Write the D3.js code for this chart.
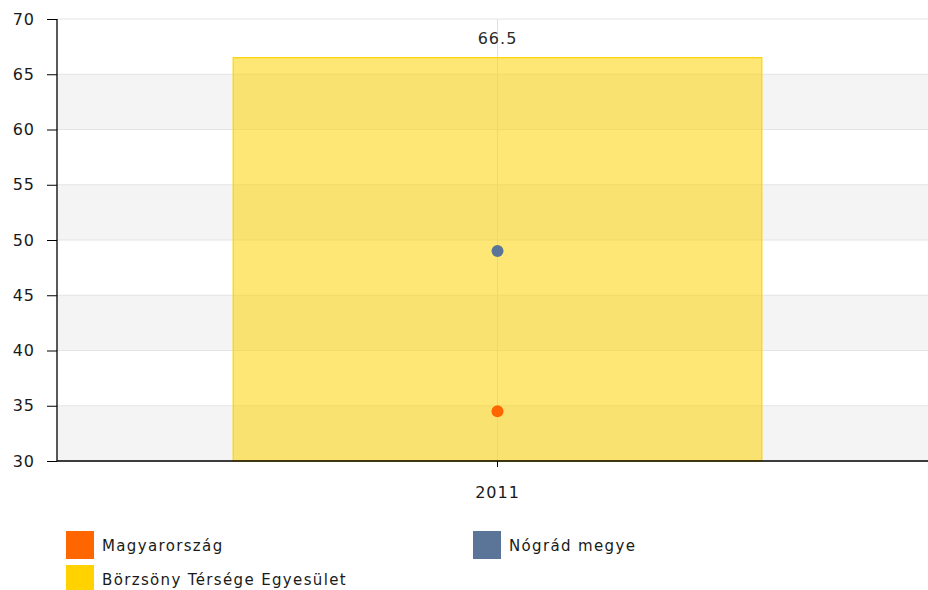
<!DOCTYPE html>
<html><head><meta charset="utf-8">
<script src="https://cdn.jsdelivr.net/npm/d3@7"></script>
<style>body{margin:0;background:#fff}svg{display:block}text{font-family:"DejaVu Sans",Verdana,sans-serif}</style>
</head><body>
<svg id="c" width="928" height="590"></svg>
<script>
const categories = ["2011"];
const seriesNames = ["Magyarország", "Nógrád megye", "Börzsöny Térsége Egyesület"];
const seriesColors = ["#ff6600", "#5b7599", "#ffd200"];
const magyarorszag = [34.5];
const nograd = [49];
const borzsony = [66.5];
const yTicks = [30, 35, 40, 45, 50, 55, 60, 65, 70];

const svg = d3.select("#c");
const L = 57, R = 938, T = 19, B = 461;
const FONT = '"DejaVu Sans",Verdana,sans-serif';
const y = d3.scaleLinear().domain([30, 70]).range([B, T]);
const x = d3.scaleBand().domain(categories).range([L, R]).paddingInner(0).paddingOuter(0);
const cx = c => x(c) + x.bandwidth() / 2;

// alternating bands
const bands = d3.pairs(yTicks).filter((d, i) => i % 2 === 0);
svg.append("g").selectAll("rect").data(bands).join("rect")
  .attr("x", L).attr("width", 928 - L)
  .attr("y", d => y(d[1])).attr("height", d => y(d[0]) - y(d[1]))
  .attr("fill", "#f4f4f4");
// gridlines
svg.append("g").selectAll("line").data(yTicks).join("line")
  .attr("x1", L).attr("x2", 928).attr("y1", d => y(d)).attr("y2", d => y(d))
  .attr("stroke", "#e4e4e4").attr("stroke-width", 1);
// vertical category grid
svg.append("g").selectAll("line").data(categories).join("line")
  .attr("x1", cx).attr("x2", cx).attr("y1", T).attr("y2", B)
  .attr("stroke", "#e0e0e0");

// bar
const bw = x.bandwidth() * 0.6;
svg.append("g").selectAll("rect").data(categories).join("rect")
  .attr("x", d => cx(d) - bw / 2).attr("width", bw)
  .attr("y", (d, i) => y(borzsony[i])).attr("height", (d, i) => B - y(borzsony[i]))
  .attr("fill", "rgba(255,210,0,0.54)").attr("stroke", "#ffd200").attr("stroke-width", 1.2);
svg.append("g").selectAll("text").data(categories).join("text")
  .attr("x", cx).attr("y", (d, i) => y(borzsony[i]) - 14)
  .attr("text-anchor", "middle").attr("font-size", 16).attr("letter-spacing", 1).attr("fill", "#2a2a2a")
  .text((d, i) => borzsony[i]);

// points
[[magyarorszag, seriesColors[0]], [nograd, seriesColors[1]]].forEach(([vals, col]) => {
  svg.append("g").selectAll("circle").data(categories).join("circle")
    .attr("cx", cx).attr("cy", (d, i) => y(vals[i])).attr("r", 6).attr("fill", col);
});

// axes
const ya = svg.append("g").attr("transform", `translate(${L},0)`)
  .call(d3.axisLeft(y).tickValues(yTicks).tickSize(10).tickPadding(12).tickFormat(d3.format("d")));
ya.select(".domain").attr("stroke", "#000").attr("stroke-width", 1.3).attr("d", `M0,${T}V${B}`);
ya.selectAll("line").attr("stroke", "#000");
ya.selectAll("text").attr("font-size", 16).attr("letter-spacing", 1).attr("fill", "#1a1a1a").style("font-family", FONT);

const xa = svg.append("g").attr("transform", `translate(0,${B})`)
  .call(d3.axisBottom(x).tickSize(6).tickPadding(20));
xa.select(".domain").attr("stroke", "#000").attr("stroke-width", 1.3).attr("d", `M${L},0H928`);
xa.selectAll("line").attr("stroke", "#000");
xa.selectAll("text").attr("font-size", 16).attr("letter-spacing", 1).attr("fill", "#1a1a1a").style("font-family", FONT);

// legend
const legendItems = [
  {name: seriesNames[0], color: seriesColors[0], x: 66, y: 531},
  {name: seriesNames[1], color: seriesColors[1], x: 473, y: 531},
  {name: seriesNames[2], color: seriesColors[2], x: 66, y: 565}
];
const lg = svg.append("g").selectAll("g").data(legendItems).join("g")
  .attr("transform", d => `translate(${d.x},${d.y})`);
lg.append("rect").attr("width", 28).attr("height", 28).attr("fill", d => d.color);
lg.append("text").attr("x", 36).attr("y", 20).attr("font-size", 15).attr("letter-spacing", 1.35).attr("fill", "#1a1a1a").text(d => d.name);
</script>
</body></html>
